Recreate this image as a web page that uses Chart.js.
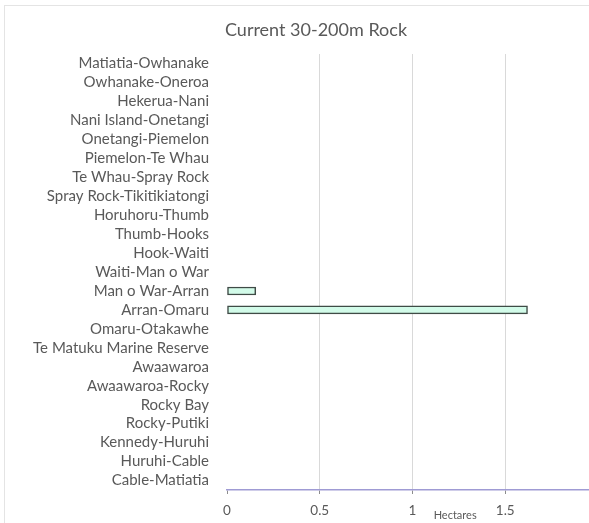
<!DOCTYPE html>
<html>
<head>
<meta charset="utf-8">
<script src="https://cdn.jsdelivr.net/npm/chart.js@4.4.1/dist/chart.umd.min.js"></script>
<style>
  html, body { margin: 0; padding: 0; background: #fff; overflow: hidden; }
  #wrap { position: relative; width: 589px; height: 523px; overflow: hidden; }
  #frame { position: absolute; left: 4px; top: 5px; width: 600px; height: 600px; border: 1px solid #e4e4e4; }
  #box { position: absolute; left: 0; top: 0; width: 620px; height: 523px; }
</style>
</head>
<body>
<div id="wrap">
  <div id="frame"></div>
  <div id="box"><canvas id="myChart" width="620" height="523"></canvas></div>
</div>
<script>
// categories top to bottom
const sites = [
  "Matiatia-Owhanake", "Owhanake-Oneroa", "Hekerua-Nani", "Nani Island-Onetangi",
  "Onetangi-Piemelon", "Piemelon-Te Whau", "Te Whau-Spray Rock", "Spray Rock-Tikitikiatongi",
  "Horuhoru-Thumb", "Thumb-Hooks", "Hook-Waiti", "Waiti-Man o War", "Man o War-Arran",
  "Arran-Omaru", "Omaru-Otakawhe", "Te Matuku Marine Reserve", "Awaawaroa",
  "Awaawaroa-Rocky", "Rocky Bay", "Rocky-Putiki", "Kennedy-Huruhi", "Huruhi-Cable",
  "Cable-Matiatia"
];
const hectares = [0, 0, 0, 0, 0, 0, 0, 0, 0, 0, 0, 0, 0.155, 1.62, 0, 0, 0, 0, 0, 0, 0, 0, 0];
const xTicks = [0, 0.5, 1, 1.5, 2];

const chartTitle = "Current 30-200m Rock";
const xTitle = "Hectares";

const labelFont = "Lato, 'Open Sans', sans-serif";

// title and axis title are placed by hand, like the original (not centred on the plot)
const textPlugin = {
  id: 'texts',
  afterDraw(chart) {
    const ctx = chart.ctx;
    ctx.save();
    ctx.fillStyle = "#595959";
    ctx.textAlign = "center";
    ctx.textBaseline = "middle";
    ctx.font = "18px " + labelFont;
    ctx.fillText(chartTitle, 316, 30);
    ctx.font = "11px " + labelFont;
    ctx.fillText(xTitle, chart.scales.x.getPixelForValue(1.23), 515);
    ctx.restore();
  }
};

const ctx = document.getElementById('myChart');
new Chart(ctx, {
  type: 'bar',
  data: {
    labels: sites,
    datasets: [{
      data: hectares,
      backgroundColor: "#d2fbe9",
      borderColor: "#3f4b46",
      borderWidth: 1.5,
      borderSkipped: false,
      barThickness: 8
    }]
  },
  options: {
    indexAxis: 'y',
    responsive: false,
    animation: false,
    layout: { padding: { left: 0, right: 22, top: 54, bottom: 0 } },
    scales: {
      x: {
        min: 0,
        max: 2,
        afterBuildTicks: s => { s.ticks = xTicks.map(v => ({ value: v })); },
        afterFit: s => { s.height = 33; },
        ticks: {
          color: "#595959",
          font: { family: labelFont, size: 13.5 },
          padding: 9,
          callback: v => String(v)
        },
        grid: {
          color: c => c.tick && c.tick.value === 0 ? "rgba(0,0,0,0)" : "#d9d9d9",
          tickColor: "#8c8c8c",
          tickLength: 4
        },
        border: { color: "#9f9bd4", width: 1.5 }
      },
      y: {
        afterFit: s => { s.width = 227; },
        ticks: {
          color: "#595959",
          font: { family: labelFont, size: 15 },
          padding: 10,
          autoSkip: false
        },
        grid: { display: false },
        border: { display: false }
      }
    },
    plugins: {
      legend: { display: false },
      tooltip: { enabled: false },
      title: { display: false }
    }
  },
  plugins: [textPlugin]
});
</script>
</body>
</html>
